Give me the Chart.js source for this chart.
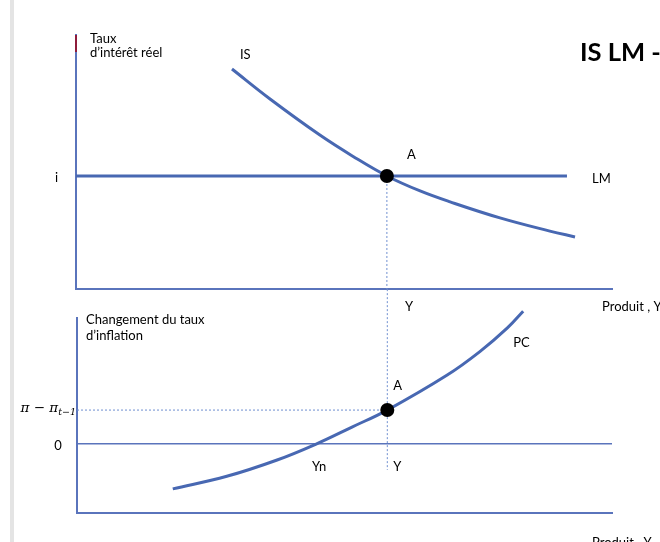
<!DOCTYPE html>
<html>
<head>
<meta charset="utf-8">
<script src="https://cdn.jsdelivr.net/npm/chart.js@4/dist/chart.umd.min.js"></script>
<style>
  html, body { margin: 0; padding: 0; background: #ffffff; }
  #wrap { position: relative; width: 660px; height: 542px; overflow: hidden; }
  #wrap canvas { position: absolute; left: 0; top: 0; }
  #bar { position: absolute; left: 10px; top: 0; width: 4px; height: 542px; background: #e4e4e4; }
</style>
</head>
<body>
<div id="wrap">
  <div id="bar"></div>
  <canvas id="top" width="660" height="542"></canvas>
  <canvas id="bottom" width="660" height="542"></canvas>
</div>
<script>
// ---------- DATA (abstract units) ----------
// Top panel: IS curve and LM line (x = output Y, y = real interest rate)
const isX = [2.91, 3.62, 4.55, 5.17, 5.80, 6.42, 6.98, 7.91, 8.84, 9.31];
const isY = [8.66, 7.48, 6.06, 5.22, 4.45, 3.86, 3.43, 2.80, 2.28, 2.05];
const lmX = [0, 9.16];
const rateI = 4.45;            // level "i" of the LM line
const outputA = 5.80;          // equilibrium output Y at point A
// Bottom panel: Phillips curve (x = output Y, y = change in inflation)
const pcX = [1.79, 2.80, 3.74, 4.47, 5.14, 5.80, 6.92, 7.53, 8.04, 8.34];
const pcY = [-1.32, -0.95, -0.47, 0.00, 0.50, 1.00, 2.03, 2.72, 3.41, 3.91];
const inflA = 1.00;            // π − π(t−1) at point A
const outputYn = 4.47;         // natural output Yn (PC crosses 0)
// guide (dotted) line extents in bottom-panel units
const guideBottomTop = 4.56;
const guideBottomEnd = -0.76;
// text
const titleText = 'IS LM -';
const topYTitle = ['Taux', 'd’intérêt réel'];
const bottomYTitle = ['Changement du taux', 'd’inflation'];
const xTitle = 'Produit , Y';
const topTickLabels = ['i'];
const bottomTickLabels = ['0', 'π − π', 't−1'];
const curveNames = ['IS', 'LM', 'PC'];
const pointName = 'A';
const outputLabels = ['Y', 'Yn'];

// ---------- STYLE ----------
const curveBlue = '#4868b2';
const axisBlue = '#5a74bc';
const dotBlue = '#6f8fd0';
const font = 'Lato, "Open Sans", sans-serif';
const lblFont = '13px ' + font;

function zip(xs, ys) { return xs.map((x, i) => ({ x: x, y: ys[i] })); }
function txt(ctx, s, x, y, opts) {
  opts = opts || {};
  ctx.save();
  ctx.font = opts.font || lblFont;
  ctx.fillStyle = opts.color || '#000';
  ctx.textAlign = opts.align || 'left';
  ctx.textBaseline = 'alphabetic';
  ctx.fillText(s, x, y);
  ctx.restore();
}

const baseScales = (ymin, ymax) => ({
  x: {
    type: 'linear', min: 0, max: 10,
    ticks: { display: false }, grid: { display: false, drawTicks: false },
    border: { display: true, color: axisBlue, width: 2 },
    afterFit: s => { s.height = 0; }
  },
  y: {
    type: 'linear', min: ymin, max: ymax,
    ticks: { display: false, stepSize: 1 },
    grid: { display: false, drawTicks: false },
    border: { display: true, color: axisBlue, width: 2 },
    afterFit: s => { s.width = 0; }
  }
});

const curveStyle = { showLine: true, borderColor: curveBlue, borderWidth: 3, pointRadius: 0, tension: 0.4, fill: false };
const dotStyle = { showLine: true, borderColor: dotBlue, borderWidth: 1, borderDash: [2, 2], pointRadius: 0, fill: false };

// ---------- TOP CHART ----------
const topLabels = {
  id: 'topLabels',
  afterDatasetsDraw(chart) {
    const ctx = chart.ctx, a = chart.chartArea;
    const xs = chart.scales.x, ys = chart.scales.y;
    const ax = xs.getPixelForValue(outputA), ay = ys.getPixelForValue(rateI);
    txt(ctx, topYTitle[0], a.left + 14, a.top + 8);
    txt(ctx, topYTitle[1], a.left + 14, a.top + 22);
    txt(ctx, curveNames[0], xs.getPixelForValue(isX[0]) + 8, ys.getPixelForValue(isY[0]) - 10);
    txt(ctx, curveNames[1], xs.getPixelForValue(lmX[1]) + 25, ay + 7);
    txt(ctx, pointName, ax + 20, ay - 17);
    txt(ctx, topTickLabels[0], a.left - 19.5, ay + 6, { align: 'center' });
    txt(ctx, outputLabels[0], ax + 18, a.bottom + 22);
    txt(ctx, xTitle, a.right - 10, a.bottom + 22);
    txt(ctx, titleText, a.right - 32, 61, { font: 'bold 25.5px ' + font });
  }
};

new Chart(document.getElementById('top'), {
  type: 'scatter',
  data: {
    datasets: [
      { label: 'A', data: [{ x: outputA, y: rateI }], pointRadius: 7, pointBackgroundColor: '#000', pointBorderWidth: 0, showLine: false },
      Object.assign({ label: 'IS', data: zip(isX, isY) }, curveStyle),
      Object.assign({ label: 'LM', data: zip(lmX, [rateI, rateI]) }, curveStyle),
      Object.assign({ label: 'guide', data: [{ x: outputA, y: rateI }, { x: outputA, y: 0 }] }, dotStyle),
      { label: 'axisAccent', data: [{ x: 0, y: 10 }, { x: 0, y: 9.33 }], showLine: true, borderColor: '#8e1c3b', borderWidth: 2, pointRadius: 0, clip: false }
    ]
  },
  options: {
    responsive: false, animation: false, devicePixelRatio: 1,
    layout: { padding: { left: 76, right: 48, top: 35, bottom: 253 } },
    plugins: { legend: { display: false }, tooltip: { enabled: false } },
    scales: baseScales(0, 10)
  },
  plugins: [topLabels]
});

// ---------- BOTTOM CHART ----------
const bottomLabels = {
  id: 'bottomLabels',
  afterDatasetsDraw(chart) {
    const ctx = chart.ctx, a = chart.chartArea;
    const xs = chart.scales.x, ys = chart.scales.y;
    const ax = xs.getPixelForValue(outputA), ay = ys.getPixelForValue(inflA);
    const zy = ys.getPixelForValue(0);
    txt(ctx, bottomYTitle[0], a.left + 9, a.top + 6);
    txt(ctx, bottomYTitle[1], a.left + 9, a.top + 22);
    txt(ctx, bottomTickLabels[0], a.left - 19, zy + 6, { align: 'center' });
    // π − π_{t−1}
    const mainFont = 'italic 13.5px "DejaVu Serif", serif';
    const subFont = 'italic 9.5px "DejaVu Serif", serif';
    ctx.save();
    ctx.font = subFont;
    const wSub = ctx.measureText(bottomTickLabels[2]).width;
    ctx.font = mainFont;
    const wMain = ctx.measureText(bottomTickLabels[1]).width;
    ctx.restore();
    const right = a.left - 1;
    txt(ctx, bottomTickLabels[1], right - wSub - wMain, ay + 2, { font: mainFont });
    txt(ctx, bottomTickLabels[2], right - wSub, ay + 5, { font: subFont });
    txt(ctx, pointName, ax + 6, ay - 20);
    txt(ctx, outputLabels[1], xs.getPixelForValue(outputYn) + 3, zy + 27, { align: 'center' });
    txt(ctx, outputLabels[0], ax + 6, zy + 27);
    txt(ctx, curveNames[2], xs.getPixelForValue(pcX[pcX.length - 1]) - 10, ys.getPixelForValue(pcY[pcY.length - 1]) + 36);
    txt(ctx, xTitle, a.right - 20, a.bottom + 34);
  }
};

const bScales = baseScales(-2.03, 3.71);
bScales.y.grid = {
  display: true, drawTicks: false, drawOnChartArea: true,
  color: c => (c.tick && c.tick.value === 0 ? axisBlue : 'rgba(0,0,0,0)'),
  lineWidth: c => (c.tick && c.tick.value === 0 ? 1.5 : 0)
};

new Chart(document.getElementById('bottom'), {
  type: 'scatter',
  data: {
    datasets: [
      { label: 'A', data: [{ x: outputA, y: inflA }], pointRadius: 7, pointBackgroundColor: '#000', pointBorderWidth: 0, showLine: false },
      Object.assign({ label: 'PC', data: zip(pcX, pcY), clip: false }, curveStyle),
      Object.assign({ label: 'guideH', data: [{ x: 0, y: inflA }, { x: outputA, y: inflA }] }, dotStyle),
      Object.assign({ label: 'guideV', data: [{ x: outputA, y: guideBottomTop }, { x: outputA, y: guideBottomEnd }], clip: false }, dotStyle)
    ]
  },
  options: {
    responsive: false, animation: false, devicePixelRatio: 1,
    layout: { padding: { left: 77, right: 48, top: 318, bottom: 29 } },
    plugins: { legend: { display: false }, tooltip: { enabled: false } },
    scales: bScales
  },
  plugins: [bottomLabels]
});
</script>
</body>
</html>
